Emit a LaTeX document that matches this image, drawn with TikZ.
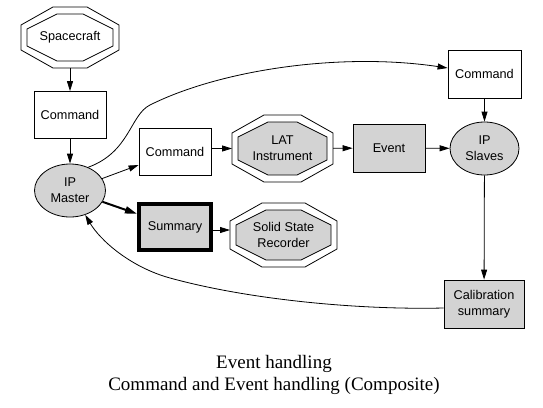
\documentclass[tikz,border=0pt]{standalone}
\usepackage{fontspec}
\setmainfont{Liberation Serif}
\newfontfamily\sansf{Liberation Sans}
\usetikzlibrary{shapes.geometric,arrows.meta,calc,backgrounds}
\definecolor{gfill}{RGB}{211,211,211}
\newcommand\octdraw[2]{%
  \draw[line width=0.8pt, fill=white] ($(#1.north west)+(32,0)$) -- ($(#1.north east)+(-32,0)$) -- ($(#1.north east)+(0,18)$) -- ($(#1.south east)+(0,-18)$) -- ($(#1.south east)+(-32,0)$) -- ($(#1.south west)+(32,0)$) -- ($(#1.south west)+(0,-18)$) -- ($(#1.north west)+(0,18)$) -- cycle;
  \draw[line width=0.8pt, fill=#2] ($(#1.north west)+(36,7)$) -- ($(#1.north east)+(-36,7)$) -- ($(#1.north east)+(-6,22)$) -- ($(#1.south east)+(-6,-22)$) -- ($(#1.south east)+(-36,-7)$) -- ($(#1.south west)+(36,-7)$) -- ($(#1.south west)+(6,-22)$) -- ($(#1.north west)+(6,22)$) -- cycle;
}
\tikzset{
  lbl/.style={font=\sansf\fontsize{12.7}{16}\selectfont, align=center, inner sep=0pt},
  box/.style={lbl, draw, line width=0.8pt, minimum width=72pt, minimum height=47pt},
  gbox/.style={box, fill=gfill},
  ell/.style={lbl, ellipse, draw, line width=0.8pt, fill=gfill, minimum width=71pt, minimum height=53pt},
  oct/.style={lbl, rectangle, draw=none, outer sep=0pt},
  arr/.style={-{Triangle[length=10pt,width=6pt]}, line width=0.8pt},
  thickarr/.style={-{Triangle[length=12pt,width=7pt]}, line width=2pt},
}
\begin{document}
\begin{tikzpicture}[x=1pt,y=-1pt]
\useasboundingbox (0,0) rectangle (543,407);
\node[oct, minimum width=98pt, minimum height=61pt] (sc) at (70,37.5) {Spacecraft};
\node[box] (cmd1) at (70,115) {Command};
\node[ell] (master) at (70,190.5) {IP\\Master};
\node[box] (cmd2) at (175,151.5) {Command};
\node[oct, minimum width=101pt, minimum height=67pt] (lat) at (282.5,148.5) {LAT\\Instrument};
\node[gbox, minimum height=48pt] (event) at (389,148) {Event};
\node[ell, minimum width=69pt] (slaves) at (484.5,148.5) {IP\\Slaves};
\node[box, minimum width=73pt, minimum height=48pt] (cmd3) at (484.5,74) {Command};
\node[gbox, line width=4pt, minimum height=46pt] (summary) at (175,227) {Summary};
\node[oct, minimum width=107pt, minimum height=64pt] (ssr) at (283.5,235) {Solid State\\Recorder};
\node[gbox, minimum width=80pt, minimum height=48pt] (calib) at (484,304) {Calibration\\summary};
\node[align=center, inner sep=0pt, font=\fontsize{19}{22}\selectfont] (title) at (274,375) {Event handling\\Command and Event handling (Composite)};
\begin{scope}[on background layer]
  \octdraw{sc}{white}
  \octdraw{lat}{gfill}
  \octdraw{ssr}{gfill}
\end{scope}
\draw[arr] (sc) -- (cmd1);
\draw[arr] (cmd1) -- (master);
\draw[arr] (master) -- (cmd2);
\draw[thickarr] (master) -- (summary);
\draw[arr] (cmd2.east |- lat) -- (lat.west);
\draw[arr] (lat) -- (event);
\draw[arr] (event) -- (slaves);
\draw[arr] (cmd3) -- (slaves);
\draw[arr] (slaves) -- (calib);
\draw[arr] ([yshift=-3pt]summary.east) -- ([yshift=5pt]ssr.west);
\draw[arr] (master.52) .. controls (130,152) and (130,115) .. (150,105) .. controls (220,70) and (340,52) .. ([yshift=6pt]cmd3.west);
\draw[arr] ([yshift=-4pt]calib.west) .. controls (360,310) and (250,300) .. (170,278) .. controls (130,267) and (100,240) .. (master.-58);
\end{tikzpicture}
\end{document}
